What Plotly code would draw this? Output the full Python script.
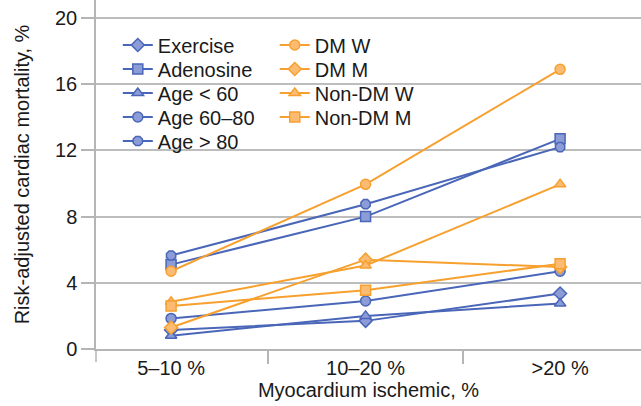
import plotly.graph_objects as go

categories = ["5–10 %", "10–20 %", ">20 %"]

blue_names = ["Exercise", "Adenosine", "Age < 60", "Age 60–80", "Age > 80"]
blue_values = [
    [1.15, 1.7, 3.35],    # Exercise
    [5.1, 8.0, 12.7],     # Adenosine
    [0.8, 2.0, 2.75],     # Age < 60
    [1.85, 2.9, 4.7],     # Age 60–80
    [5.65, 8.75, 12.2],   # Age > 80
]
blue_symbols = ["diamond", "square", "triangle-up", "circle", "octagon"]

orange_names = ["DM W", "DM M", "Non-DM W", "Non-DM M"]
orange_values = [
    [4.7, 9.95, 16.9],    # DM W
    [1.3, 5.4, 4.95],     # DM M
    [2.85, 5.05, 9.95],   # Non-DM W
    [2.6, 3.55, 5.15],    # Non-DM M
]
orange_symbols = ["circle", "diamond", "triangle-up", "square"]

y_ticks = [0, 4, 8, 12, 16, 20]

BLUE = "#4a66b8"
BLUE_FILL = "#8c9cd6"
ORANGE = "#f7a02e"
ORANGE_FILL = "#fcbb72"
FONT = "Liberation Sans, Arial, sans-serif"
TXT = "#1a1a1a"
FS = 20

PLOT_H = 349.0      # pixel height of plotting area
ROW0 = 45.0         # legend first row centre (px from top)
ROW_GAP = 24.0      # legend row spacing (px)
COL_X = [0.04, 0.328]

fig = go.Figure()
legend_layouts = {}
idx = 0

def add_series(names, values, symbols, color, fill, col):
    global idx
    for row, (name, vals, sym) in enumerate(zip(names, values, symbols)):
        idx += 1
        key = "legend" if idx == 1 else f"legend{idx}"
        fig.add_trace(go.Scatter(
            x=categories, y=vals, name=name, mode="lines+markers",
            line=dict(color=color, width=2),
            marker=dict(symbol=sym, size=10, color=fill,
                        line=dict(color=color, width=1.5)),
            legend=key,
        ))
        yc = ROW0 + row * ROW_GAP
        legend_layouts[key] = dict(
            x=COL_X[col], y=(PLOT_H - yc) / PLOT_H,
            xanchor="left", yanchor="middle",
            font=dict(family=FONT, size=FS, color=TXT),
            bgcolor="rgba(0,0,0,0)", borderwidth=0,
        )

add_series(blue_names, blue_values, blue_symbols, BLUE, BLUE_FILL, 0)
add_series(orange_names, orange_values, orange_symbols, ORANGE, ORANGE_FILL, 1)

fig.update_layout(
    width=641, height=406,
    margin=dict(l=96, r=0, t=0, b=57),
    paper_bgcolor="white",
    plot_bgcolor="white",
    font=dict(family=FONT, size=FS, color=TXT),
    showlegend=True,
    xaxis=dict(
        type="category",
        range=[-0.386, 2.416],
        showgrid=False,
        showline=True, linecolor="#b5b5b5", linewidth=1.5,
        ticks="outside", ticklen=13, tickcolor="#b5b5b5", tickwidth=1.5,
        tickson="boundaries",
        tickfont=dict(family=FONT, size=FS, color=TXT),
        title=dict(text="Myocardium ischemic, %",
                   font=dict(family=FONT, size=FS, color=TXT),
                   standoff=1),
        zeroline=False,
    ),
    yaxis=dict(
        range=[0, 21.09],
        tickvals=y_ticks,
        showgrid=True, gridcolor="#bdbdbd", gridwidth=1.5,
        showline=True, linecolor="#b5b5b5", linewidth=1.5,
        ticks="outside", ticklen=13, tickcolor="#b5b5b5", tickwidth=1.5,
        tickfont=dict(family=FONT, size=FS, color=TXT),
        title=dict(text="Risk-adjusted cardiac mortality, %",
                   font=dict(family=FONT, size=FS, color=TXT),
                   standoff=20),
        zeroline=False,
    ),
    shapes=[dict(type="line", xref="paper", yref="paper",
                 x0=0, x1=0, y0=0, y1=-13 / PLOT_H,
                 line=dict(color="#b5b5b5", width=1.5))],
    **legend_layouts,
)

fig.write_html("out.html")
